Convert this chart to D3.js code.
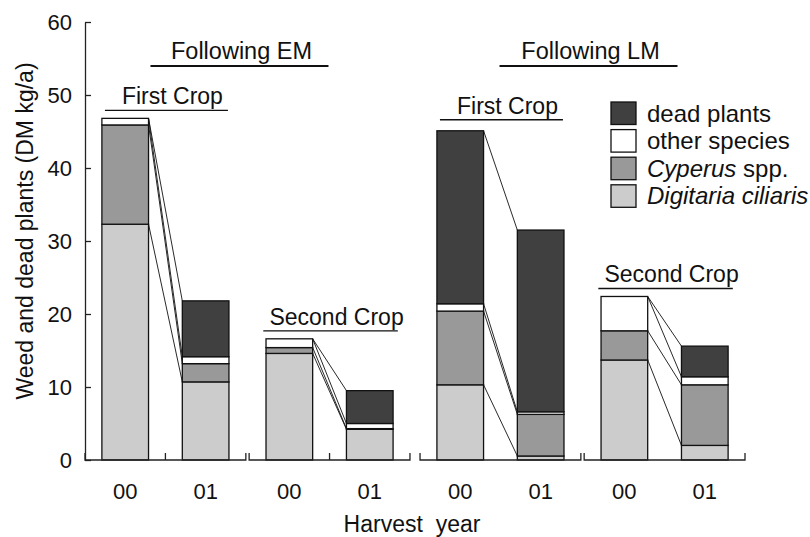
<!DOCTYPE html>
<html>
<head>
<meta charset="utf-8">
<script src="https://cdn.jsdelivr.net/npm/d3@7"></script>
<style>
  body { margin: 0; background: #fff; }
  svg { display: block; }
  text { font-family: "Liberation Sans", Arial, sans-serif; fill: #111; }
  .axis text { font-size: 22px; }
</style>
</head>
<body>
<div id="chart"></div>
<script>
const width = 810;
const height = 537;
const margin = {top: 22, bottom: 77, left: 85, right: 65};

// categories
const treatments = ["EM", "LM"];
const crops = ["First Crop", "Second Crop"];
const years = ["00", "01"];
const yTicks = [0, 10, 20, 30, 40, 50, 60];

// bars in order EM-First-00, EM-First-01, EM-Second-00, EM-Second-01, LM-...
const digitaria = [32.3, 10.7, 14.6, 4.2, 10.3, 0.55, 13.7, 2.0];
const cyperus   = [13.6, 2.5, 0.8, 0.1, 10.1, 5.7, 4.0, 8.3];
const other     = [0.9, 0.95, 1.2, 0.7, 1.0, 0.35, 4.7, 1.1];
const dead      = [0, 7.65, 0, 4.5, 23.7, 24.9, 0, 4.2];

const keys = ["digitaria", "cyperus", "other", "dead"];
const colors = {digitaria: "#cccccc", cyperus: "#999999", other: "#ffffff", dead: "#404040"};
const legendItems = [
  {key: "dead", parts: [["dead plants", false]]},
  {key: "other", parts: [["other species", false]]},
  {key: "cyperus", parts: [["Cyperus", true], [" spp.", false]]},
  {key: "digitaria", parts: [["Digitaria ciliaris", true]]}
];

// build the table d3.stack needs
const rows = [];
let n = 0;
treatments.forEach(t => crops.forEach(c => years.forEach(yr => {
  rows.push({treatment: t, crop: c, year: yr,
    digitaria: digitaria[n], cyperus: cyperus[n], other: other[n], dead: dead[n]});
  n++;
})));

const series = d3.stack().keys(keys)(rows);

const svg = d3.select("#chart").append("svg")
  .attr("width", width)
  .attr("height", height);

const y = d3.scaleLinear().domain([0, 60]).range([height - margin.bottom, margin.top]);
const y0 = y(0);

const xTreat = d3.scaleBand().domain(treatments)
  .range([margin.left, width - margin.right]).paddingInner(0.03);
const xCrop = d3.scaleBand().domain(crops)
  .range([0, xTreat.bandwidth()]).paddingInner(0.02);
const xYear = d3.scaleBand().domain(years)
  .range([0, xCrop.bandwidth()]).paddingInner(0.42).paddingOuter(0.21);

const cropX = d => xTreat(d.treatment) + xCrop(d.crop);
const barX = d => cropX(d) + xYear(d.year);
const bw = xYear.bandwidth();

// connector lines between 00 and 01 bar of the same crop
const links = [];
series.forEach(s => {
  for (let i = 0; i < rows.length; i += 2) {
    links.push({a: rows[i], b: rows[i + 1], v0: s[i][1], v1: s[i + 1][1]});
  }
});
svg.append("g").selectAll("line").data(links).enter().append("line")
  .attr("x1", d => barX(d.a) + bw)
  .attr("y1", d => y(d.v0))
  .attr("x2", d => barX(d.b))
  .attr("y2", d => y(d.v1))
  .attr("stroke", "#111")
  .attr("stroke-width", 0.9);

// stacked bars
svg.append("g").selectAll("g").data(series).enter().append("g")
  .attr("fill", d => colors[d.key])
  .selectAll("rect").data(d => d).enter().append("rect")
  .attr("x", d => barX(d.data))
  .attr("y", d => y(d[1]))
  .attr("width", bw)
  .attr("height", d => y(d[0]) - y(d[1]))
  .attr("stroke", "#111")
  .attr("stroke-width", 1.3);

// y axis, ticks pointing inwards
const yAxis = svg.append("g")
  .attr("class", "axis")
  .attr("transform", `translate(${margin.left},0)`)
  .call(d3.axisLeft(y).tickValues(yTicks).tickSizeInner(-6).tickSizeOuter(0).tickPadding(13));
yAxis.select(".domain").attr("stroke", "#222").attr("stroke-width", 1.3);
yAxis.selectAll(".tick line").attr("stroke", "#222").attr("stroke-width", 1.3);

// broken x axis: one piece per crop
const segs = [];
treatments.forEach(t => crops.forEach(c => segs.push({treatment: t, crop: c})));
svg.append("g").selectAll("path").data(segs).enter().append("path")
  .attr("fill", "none")
  .attr("stroke", "#222")
  .attr("stroke-width", 1.3)
  .attr("d", d => {
    const x0 = cropX(d), x1 = x0 + xCrop.bandwidth();
    let p = `M${x0},${y0 - 7}V${y0}H${x1}V${y0 - 7}`;
    if (d.treatment === "EM") p += `M${x0 + xCrop.bandwidth() / 2},${y0}V${y0 - 7}`;
    return p;
  });

// year labels
svg.append("g").selectAll("text").data(rows).enter().append("text")
  .attr("x", d => barX(d) + bw / 2)
  .attr("y", y0 + 39)
  .attr("text-anchor", "middle")
  .style("font-size", "22px")
  .text(d => d.year);

svg.append("text")
  .attr("x", (margin.left + width - margin.right) / 2 - 3)
  .attr("y", 532)
  .attr("text-anchor", "middle")
  .style("font-size", "23px")
  .style("white-space", "pre")
  .text("Harvest  year");

svg.append("text")
  .attr("transform", `translate(33,${(y(0) + y(60)) / 2 - 10}) rotate(-90)`)
  .attr("text-anchor", "middle")
  .style("font-size", "23px")
  .text("Weed and dead plants (DM kg/a)");

// crop labels above each pair of bars
const cropLabels = [];
treatments.forEach(t => crops.forEach(c => {
  const top = d3.max(rows.filter(r => r.treatment === t && r.crop === c),
    r => keys.reduce((s, k) => s + r[k], 0));
  cropLabels.push({treatment: t, crop: c, top: top});
}));
const cl = svg.append("g").selectAll("g").data(cropLabels).enter().append("g")
  .attr("transform", d => `translate(${cropX(d) + xCrop.bandwidth() / 2 + 3},${y(d.top) - (d.treatment === "LM" && d.crop === "First Crop" ? 11 : 8)})`);
cl.append("text")
  .attr("x", 4)
  .attr("y", -6)
  .attr("text-anchor", "middle")
  .style("font-size", "23px")
  .text(d => d.crop);
cl.append("line")
  .attr("x1", d => -(d.crop.length * 11.5 + 12) / 2)
  .attr("x2", d => (d.crop.length * 11.5 + 12) / 2 - 4)
  .attr("stroke", "#111")
  .attr("stroke-width", 1.3);

// treatment labels
const tl = svg.append("g").selectAll("g").data(treatments).enter().append("g")
  .attr("transform", d => `translate(${xTreat(d) + xTreat.bandwidth() / 2 + (d === "EM" ? -8 : 6)},66)`);
tl.append("text")
  .attr("y", -7)
  .attr("x", 2)
  .attr("text-anchor", "middle")
  .style("font-size", "23.5px")
  .text(d => "Following " + d);
tl.append("line")
  .attr("x1", -89)
  .attr("x2", 89)
  .attr("stroke", "#111")
  .attr("stroke-width", 2);

// legend
const lg = svg.append("g").attr("transform", "translate(611,102)");
const li = lg.selectAll("g").data(legendItems).enter().append("g")
  .attr("transform", (d, i) => `translate(0,${i * 27.6})`);
li.append("rect")
  .attr("width", 25)
  .attr("height", 22.5)
  .attr("fill", d => colors[d.key])
  .attr("stroke", "#111")
  .attr("stroke-width", 1.3);
li.append("text")
  .attr("x", 36)
  .attr("y", 19.5)
  .style("font-size", "24px")
  .selectAll("tspan").data(d => d.parts).enter().append("tspan")
  .style("font-style", d => d[1] ? "italic" : "normal")
  .text(d => d[0]);
</script>
</body>
</html>
